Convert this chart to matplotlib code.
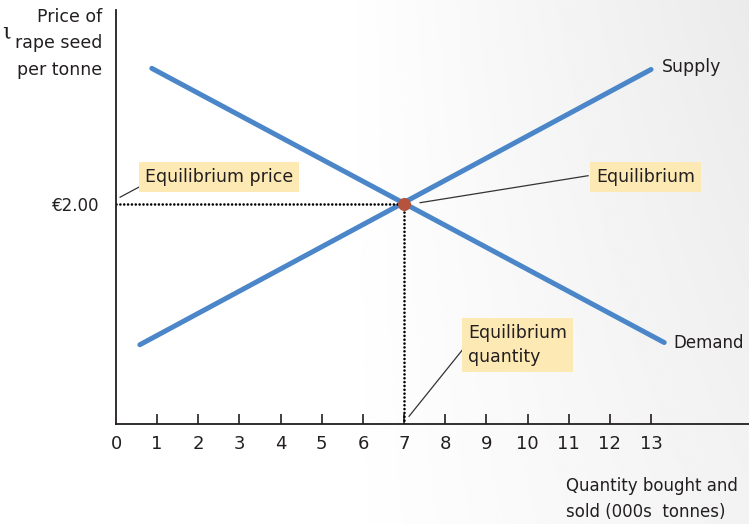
import matplotlib
matplotlib.use("Agg")
import matplotlib.pyplot as plt
import numpy as np

plt.rcParams['font.family'] = ['DejaVu Sans']

# data (price in €, quantity in 000s tonnes)
supply_q = [0.58, 13.0]
supply_p = [0.72, 3.22]
demand_q = [0.87, 13.32]
demand_p = [3.23, 0.74]
eq_q = 7
eq_p = 2.0
x_ticks = list(range(0, 14))
y_tick_label = '€2.00'

blue = '#4a86c8'
ink = '#231f20'
box = dict(boxstyle='square,pad=0.35', fc='#fde9b3', ec='none')

fig = plt.figure(figsize=(7.49, 5.24), dpi=100)

# light grey gradient behind the chart
bg = fig.add_axes([0, 0, 1, 1], zorder=-2)
gx, gy = np.meshgrid(np.linspace(0, 1, 300), np.linspace(0, 1, 200))
shade = np.clip((gx - 0.45) / 0.55, 0, 1) * (0.6 + 0.4 * (1 - gy))
bg.imshow(1 - 0.08 * shade, cmap='gray', vmin=0, vmax=1, aspect='auto',
          extent=[0, 1, 0, 1], origin='upper')
bg.axis('off')

ax = fig.add_axes([116 / 749, 100 / 524, 633 / 749, 414 / 524])
ax.patch.set_alpha(0)
ax.set_xlim(0, 15.38)
ax.set_ylim(0, 3.76)

ax.plot(supply_q, supply_p, color=blue, lw=3.6, solid_capstyle='round')
ax.plot(demand_q, demand_p, color=blue, lw=3.6, solid_capstyle='round')

dots = dict(color='black', lw=1.9, ls=(0, (0.01, 1.45)), dash_capstyle='round')
ax.plot([0, eq_q], [eq_p, eq_p], **dots)
ax.plot([eq_q, eq_q], [0, eq_p], **dots)
ax.scatter([eq_q], [eq_p], s=70, color='#b5533c', zorder=5)

for s in ['top', 'right']:
    ax.spines[s].set_visible(False)
for s in ['left', 'bottom']:
    ax.spines[s].set_linewidth(1.3)
    ax.spines[s].set_color(ink)

ax.set_xticks(x_ticks[1:])
ax.set_xticklabels([str(t) for t in x_ticks[1:]], fontsize=13, color=ink)
ax.tick_params(axis='x', direction='in', length=7, width=1.2, pad=8, color=ink)
ax.text(0, -0.1, '0', fontsize=13, ha='center', va='top', color=ink)
ax.set_yticks([eq_p])
ax.set_yticklabels([y_tick_label], fontsize=12, color=ink)
ax.tick_params(axis='y', length=0, pad=12)

ax.text(supply_q[-1] + 0.27, supply_p[-1] + 0.02, 'Supply', fontsize=12.5, va='center', color=ink)
ax.text(demand_q[-1] + 0.23, demand_p[-1], 'Demand', fontsize=12, va='center', color=ink)

ax.text(2.5, 2.245, 'Equilibrium price', fontsize=12.5, ha='center', va='center',
        bbox=box, color=ink)
ax.plot([0.1, 0.55], [2.06, 2.15], color='#333333', lw=0.9)

ax.text(12.86, 2.245, 'Equilibrium', fontsize=12.5, ha='center', va='center',
        bbox=box, color=ink)
ax.plot([7.39, 11.47], [2.01, 2.255], color='#333333', lw=0.9)

ax.text(8.55, 0.72, 'Equilibrium\nquantity', fontsize=12.5, ha='left', va='center',
        linespacing=1.4, bbox=box, color=ink)
ax.plot([7.12, 8.41], [0.07, 0.67], color='#333333', lw=0.9)

fig.text(102 / 749, 1 - 8 / 524, 'Price of\nrape seed\nper tonne', fontsize=12.5,
         ha='right', va='top', linespacing=1.6, color=ink)
fig.text(566 / 749, 1 - 477 / 524, 'Quantity bought and\nsold (000s  tonnes)',
         fontsize=12, ha='left', va='top', linespacing=1.6, color=ink)
fig.text(2 / 749, 1 - 44 / 524, 'ι', fontsize=16, family='DejaVu Serif',
         ha='left', va='bottom', color=ink)

fig.savefig('out.png', dpi=100)
